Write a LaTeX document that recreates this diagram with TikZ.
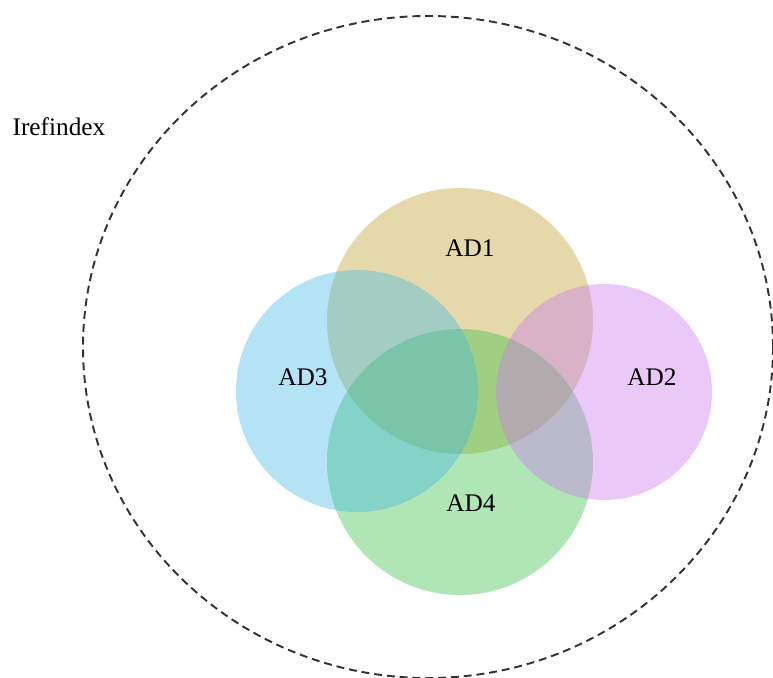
\documentclass[tikz,border=0pt]{standalone}
\usepackage{fontspec}
\setmainfont{Liberation Serif}
\definecolor{adtan}{RGB}{190,160,48}
\definecolor{adpink}{RGB}{202,120,238}
\definecolor{adblue}{RGB}{65,185,230}
\definecolor{adgreen}{RGB}{58,190,70}
\begin{document}
\begin{tikzpicture}[x=0.02cm,y=-0.02cm]
        \tikzstyle{every node}=[font=\fontsize{14.4}{17}\selectfont];
        \tikzstyle{set}=[fill opacity=0.4];
        %\fill [set,color] (x,y) circle (r);
        \useasboundingbox (0,0) rectangle (773,678);
        \draw[dash pattern=on 4.5pt off 2.8pt,line width=1.1pt,black!80] (428,347) ellipse [x radius=345,y radius=331];
        \fill[set,adtan] (460,321) circle (133);
        \fill[set,adgreen] (460,462) circle (133);
        \fill[set,adblue] (357,391) circle (121);
        \fill[set,adpink] (604,392) circle (108);
        \node (ire) at (59,127) {Irefindex};
        \node (ad1) at (470,248) {AD1};
        \node (ad2) at (652,377) {AD2};
        \node (ad3) at (303,377) {AD3};
        \node (ad4) at (471,503) {AD4};
    \end{tikzpicture}
\end{document}
